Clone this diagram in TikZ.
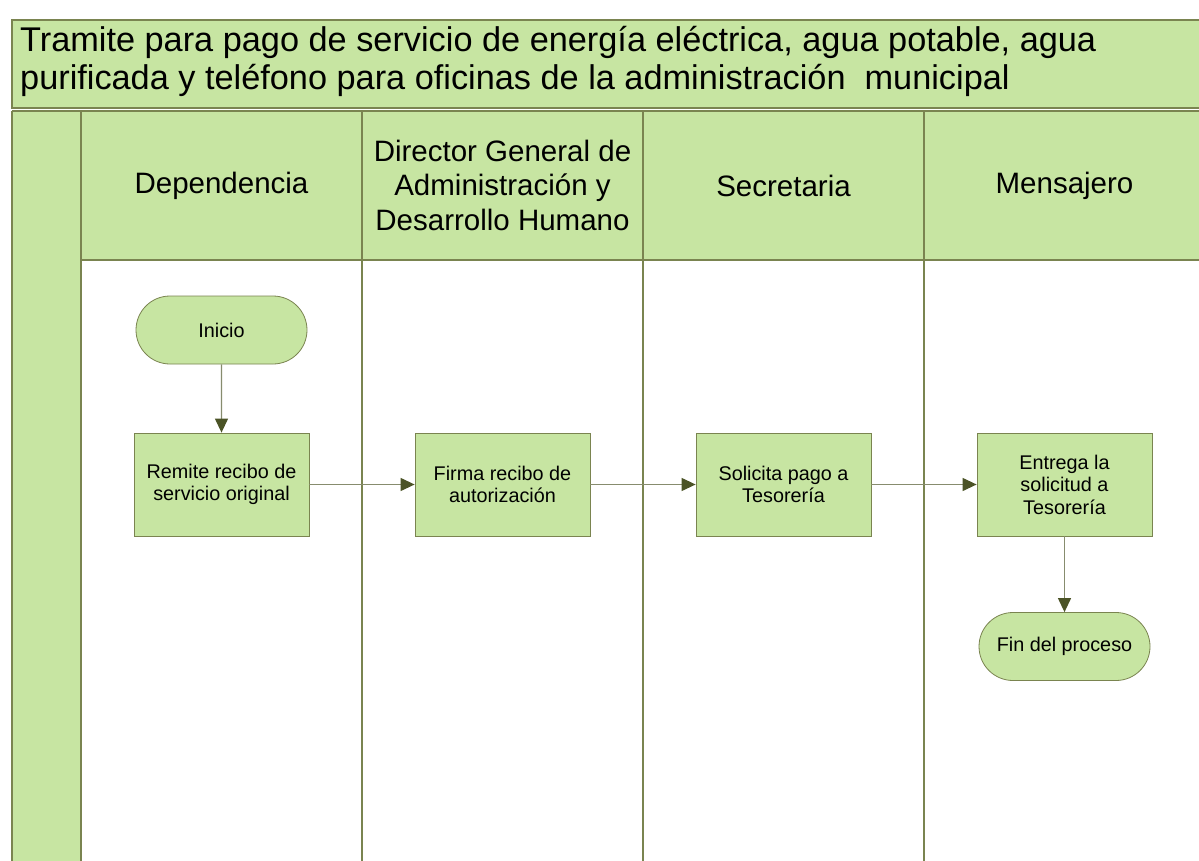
\documentclass[tikz,border=0pt]{standalone}
\usepackage{fontspec}
\setmainfont{Liberation Sans}
\usetikzlibrary{arrows.meta,shapes.misc}
\definecolor{lanefill}{RGB}{199,229,162}
\definecolor{laneline}{RGB}{122,132,80}
\definecolor{conn}{RGB}{135,140,110}
\definecolor{tip}{RGB}{75,83,38}
\tikzset{
  lane/.style={draw=laneline, line width=1.2pt},
  procbox/.style={draw=laneline, fill=lanefill, line width=0.8pt, minimum width=175pt, minimum height=103pt, align=center, inner sep=2pt, font=\fontsize{19.8}{22.5}\selectfont},
  termbox/.style={draw=laneline, fill=lanefill, line width=0.8pt, rounded rectangle, minimum width=175pt, minimum height=68pt, align=center, inner sep=2pt, font=\fontsize{19.8}{22.5}\selectfont},
  hdr/.style={align=center, font=\fontsize{29.5}{34.5}\selectfont},
  flow/.style={draw=conn, line width=1.2pt, -{Triangle[length=14pt,width=13pt,fill=tip,color=tip]}},
}
\begin{document}
\begin{tikzpicture}[x=1pt,y=-1pt]
\useasboundingbox (0,0) rectangle (1199,861);
\fill[white] (0,0) rectangle (1199,861);
\begin{scope}
\clip (0,0) rectangle (1199,861);
% title box
\fill[lanefill] (12,20) rectangle (1210,108);
\draw[lane] (1210,20) -- (12,20) -- (12,108) -- (1210,108);
\node[anchor=north west, align=left, inner sep=0pt, font=\fontsize{34.3}{38.5}\selectfont] (title) at (20,26)
  {Tramite para pago de servicio de energía eléctrica, agua potable, agua\\purificada y teléfono para oficinas de la administración\ \ municipal};
% pool
\fill[lanefill] (12,111) rectangle (81,870);
\fill[lanefill] (81,111) rectangle (1210,260);
\draw[lane] (12,111) -- (1210,111);
\draw[lane] (12,111) -- (12,870);
\draw[lane] (81,111) -- (81,870);
\draw[lane] (81,260) -- (1210,260);
\foreach \x in {362,643,924} \draw[lane] (\x,111) -- (\x,870);
\end{scope}
% headers
\node[hdr] (h1) at (221.5,186) {Dependencia};
\node[hdr] (h2) at (502.5,185) {Director General de\\Administración y\\Desarrollo Humano};
\node[hdr] (h3) at (783.5,186) {Secretaria};
\node[hdr] (h4) at (1064.5,186) {Mensajero};
% nodes
\node[termbox] (inicio) at (221.5,330) {Inicio};
\node[procbox] (remite) at (221.5,484.5) {Remite recibo de\\servicio original};
\node[procbox] (firma) at (502.5,484.5) {Firma recibo de\\autorización};
\node[procbox] (solicita) at (783.5,484.5) {Solicita pago a\\Tesorería};
\node[procbox] (entrega) at (1064.5,484.5) {Entrega la\\solicitud a\\Tesorería};
\node[termbox] (fin) at (1064.5,646.5) {Fin del proceso};
% connectors
\draw[flow] (inicio) -- (remite);
\draw[flow] (remite) -- (firma);
\draw[flow] (firma) -- (solicita);
\draw[flow] (solicita) -- (entrega);
\draw[flow] (entrega) -- (fin);
\end{tikzpicture}
\end{document}
